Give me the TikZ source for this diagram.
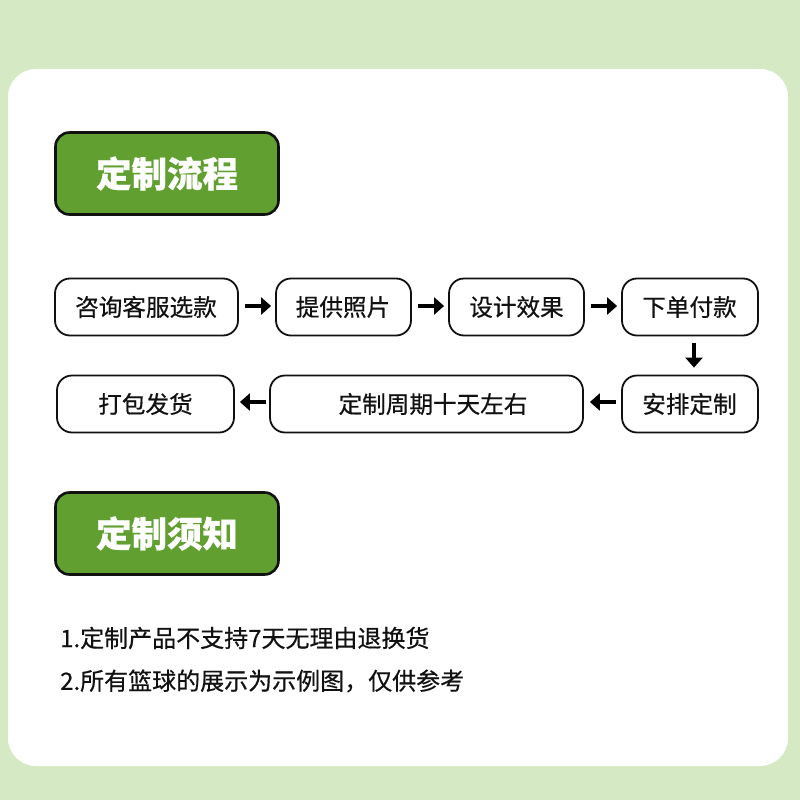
\documentclass[tikz,border=0pt]{standalone}
\usepackage{fontspec}
\setmainfont[FakeBold=0.5]{Noto Sans CJK SC}
\usetikzlibrary{arrows.meta}
\definecolor{bgGreen}{HTML}{D5EAC4}
\definecolor{titleGreen}{HTML}{609F30}
\definecolor{ink}{HTML}{111111}
\tikzset{
  x=1pt,y=-1pt,
  card/.style={fill=white,draw=none,rounded corners=28pt,minimum width=780pt,minimum height=697pt,inner sep=0pt,outer sep=0pt},
  titlebox/.style={fill=titleGreen,draw=ink,line width=2.6pt,rounded corners=14pt,minimum width=223pt,minimum height=82pt,inner sep=0pt,text=white,font=\fontsize{35.5}{36}\selectfont\bfseries},
  flowbox/.style={fill=white,draw=ink,line width=1.8pt,rounded corners=15pt,minimum height=57pt,inner sep=0pt,text=ink,font=\fontsize{23.6}{24}\selectfont},
  flowarrow/.style={-{Triangle[length=10pt,width=17pt]},line width=4pt,draw=black},
  note/.style={anchor=west,inner sep=0pt,text=ink,font=\fontsize{24}{24}\selectfont},
}
\begin{document}
\begin{tikzpicture}
\useasboundingbox (0,0) rectangle (800,800);
\fill[bgGreen] (0,0) rectangle (800,800);
\node[card] (panel) at (398,417.5) {};
\node[titlebox] (t1) at (167,173.5) {定制流程};
\node[titlebox] (t2) at (167,533.5) {定制须知};
\node[flowbox,minimum width=183pt] (a) at (146.5,307) {\hspace*{-1pt}咨询客服选款};
\node[flowbox,minimum width=135pt] (b) at (343.5,307) {\hspace*{-1pt}提供照片};
\node[flowbox,minimum width=135pt] (c) at (516.5,307) {设计效果};
\node[flowbox,minimum width=136pt] (d) at (690,307) {\hspace*{-1pt}下单付款};
\node[flowbox,minimum width=136pt] (e) at (690,404) {\hspace*{-1pt}安排定制};
\node[flowbox,minimum width=313pt] (f) at (426.5,404) {\hspace*{13pt}定制周期十天左右};
\node[flowbox,minimum width=177pt] (g) at (145.5,404) {打包发货};
\draw[flowarrow,shorten <=6pt,shorten >=4pt] ([yshift=1pt]a.east) -- ([yshift=1pt]b.west);
\draw[flowarrow,shorten <=6pt,shorten >=4pt] ([yshift=1pt]b.east) -- ([yshift=1pt]c.west);
\draw[flowarrow,shorten <=6pt,shorten >=4pt] ([yshift=1pt]c.east) -- ([yshift=1pt]d.west);
\draw[flowarrow,shorten <=7pt,shorten >=7pt] ([xshift=4pt]d.south) -- ([xshift=4pt]e.north);
\draw[flowarrow,shorten <=5pt,shorten >=6pt] ([yshift=2pt]e.west) -- ([yshift=2pt]f.east);
\draw[flowarrow,shorten <=3pt,shorten >=5pt] ([yshift=2pt]f.west) -- ([yshift=2pt]g.east);
\node[note] (n1) at (60,638) {1.定制产品不支持7天无理由退换货};
\node[note] (n2) at (60,681) {2.所有篮球的展示为示例图，仅供参考};
\end{tikzpicture}
\end{document}
